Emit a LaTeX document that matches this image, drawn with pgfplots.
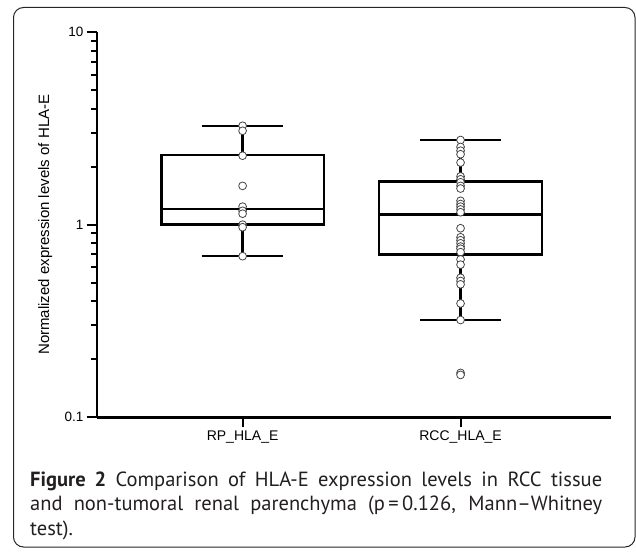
\documentclass[border=0pt]{standalone}
\usepackage{pgfplots}
\pgfplotsset{compat=1.18}
\usepgfplotslibrary{statistics}
\usepackage{fontspec}
\setmainfont{Liberation Sans}
\newfontfamily\capfont{PT Sans}
\definecolor{mk}{HTML}{444444}
\definecolor{captxt}{HTML}{231F20}
\begin{document}
\begin{tikzpicture}
\useasboundingbox (0,0) rectangle (636pt,-551pt);
\draw[rounded corners=10pt, line width=1pt, black!85] (13.5pt,-7.5pt) rectangle (635pt,-547pt);
\begin{axis}[
  at={(97pt,-417.3pt)}, anchor=south west,
  scale only axis, width=513.5pt, height=385.3pt,
  ymode=log, ymin=0.1, ymax=10,
  xmin=0.332, xmax=2.688,
  axis lines=left, axis line style={-, line width=2.6pt},
  tick align=outside,
  major tick length=10pt, minor tick length=5.5pt,
  every tick/.style={black, line width=2pt},
  ytick={0.1,1,10}, yticklabels={0.1,1,10},
  xtick={1,2}, xticklabels={RP\_HLA\_E,RCC\_HLA\_E},
  /pgf/number format/assume math mode=true,
  yticklabel style={font=\fontsize{13.5}{15}\selectfont},
  xticklabel style={font=\fontsize{14}{16}\selectfont},
  ylabel={Normalized expression levels of HLA-E},
  ylabel style={at={(axis description cs:-0.101,0.5)}, anchor=center, font=\fontsize{15}{17}\selectfont},
  boxplot/draw direction=y,
  clip=false,
]
\addplot[black, line width=2.5pt, boxplot prepared={
  lower whisker=0.686, lower quartile=1.0, median=1.205,
  upper quartile=2.30, upper whisker=3.25,
  draw position=1, box extend=0.745, whisker extend=0.375}]
  coordinates {};
\addplot[black, line width=2.5pt, boxplot prepared={
  lower whisker=0.32, lower quartile=0.70, median=1.13,
  upper quartile=1.68, upper whisker=2.75,
  draw position=2, box extend=0.748, whisker extend=0.372}]
  coordinates {};
\addplot[only marks, mark=*, mark size=3.9pt, mark options={draw=mk, fill=white, line width=0.8pt}]
  coordinates {(1,3.26)(1,3.07)(1,2.28)(1,1.59)(1,1.24)(1,1.18)(1,1.14)(1,1.0)(1,0.97)(1,0.686)};
\addplot[only marks, mark=*, mark size=3.9pt, mark options={draw=mk, fill=white, line width=0.8pt}]
  coordinates {(2,2.75)(2,2.53)(2,2.42)(2,2.32)(2,2.10)(2,1.78)(2,1.72)(2,1.66)(2,1.59)(2,1.54)
  (2,1.33)(2,1.28)(2,1.24)(2,1.20)(2,1.16)(2,0.958)(2,0.86)(2,0.83)(2,0.80)(2,0.77)(2,0.75)(2,0.72)
  (2,0.66)(2,0.62)(2,0.53)(2,0.51)(2,0.49)(2,0.39)(2,0.32)(2,0.17)(2,0.166)};
\end{axis}
\node[anchor=base west, inner sep=0pt, text=captxt, font=\capfont\fontsize{20.5}{24}\selectfont] at (30pt,-486pt)
  {\makebox[572pt][s]{\textbf{Figure 2} Comparison of HLA-E expression levels in RCC tissue}};
\node[anchor=base west, inner sep=0pt, text=captxt, font=\capfont\fontsize{20.5}{24}\selectfont] at (30pt,-510.5pt)
  {\makebox[572pt][s]{and non-tumoral renal parenchyma (p\,=\,0.126, Mann–Whitney}};
\node[anchor=base west, inner sep=0pt, text=captxt, font=\capfont\fontsize{20.5}{24}\selectfont] at (30pt,-535pt)
  {test).};
\end{tikzpicture}
\end{document}
